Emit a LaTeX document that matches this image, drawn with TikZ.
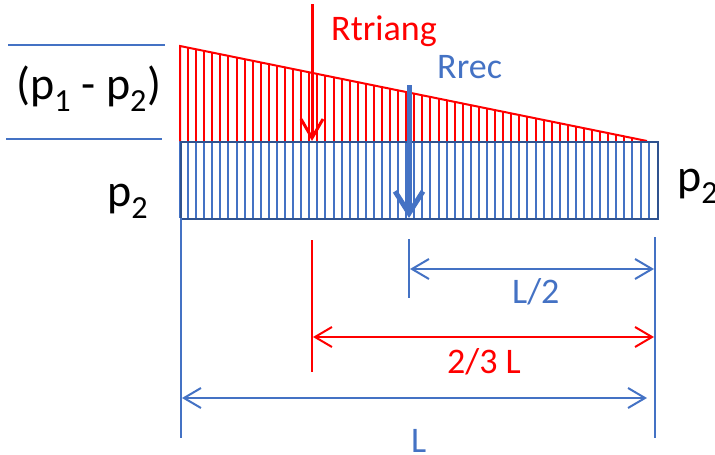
\documentclass[tikz,border=0pt]{standalone}
\usepackage{fontspec}
\setmainfont{Carlito}
\usetikzlibrary{arrows.meta}
\definecolor{cblue}{HTML}{4472C4}
\definecolor{cdark}{HTML}{2F528F}
\definecolor{cred}{HTML}{FF0000}
\begin{document}
\begin{tikzpicture}[x=1pt,y=-1pt,
  biglbl/.style={font=\fontsize{46}{50}\selectfont, inner sep=0pt},
  dimlbl/.style={font=\fontsize{36}{40}\selectfont, inner sep=0pt},
  dimline/.style={line width=2pt, {Straight Barb[length=17pt,width=20pt]}-{Straight Barb[length=17pt,width=20pt]}},
  tickline/.style={line width=2pt},
  hatch/.style={line width=2pt}]
\useasboundingbox (0,0) rectangle (715,455);

% hatching of the rectangle (p2)
\foreach \k in {0,...,58} {
  \pgfmathsetmacro\xx{180+8.08*\k}
  \draw[cblue, hatch] (\xx,141) -- (\xx,218);
}
% hatching of the triangle (p1 - p2)
\foreach \k in {0,...,57} {
  \pgfmathsetmacro\xx{180+8.08*\k}
  \pgfmathsetmacro\yt{46+(\xx-180)/467*95}
  \draw[cred, hatch] (\xx,\yt) -- (\xx,141);
}
\draw[cred, line width=2pt] (180,141) -- (180,46) -- (647,141);
\node[draw=cdark, line width=2pt, anchor=north west, inner sep=0pt,
      minimum width=477pt, minimum height=77pt] (rect) at (180,141) {};

% left reference lines
\coordinate (h1a) at (8,45);   \coordinate (h1b) at (165,45);
\coordinate (h2a) at (6,139);  \coordinate (h2b) at (162,139);
\draw[cblue, line width=2pt] (h1a) -- (h1b);
\draw[cblue, line width=2pt] (h2a) -- (h2b);

% labels
\node[biglbl, anchor=base west] (pdiff) at (16,99) {(p\textsubscript{1} - p\textsubscript{2})};
\node[biglbl, anchor=base west] (p2l) at (107,206) {p\textsubscript{2}};
\node[biglbl, anchor=base west] (p2r) at (677,191) {p\textsubscript{2}};

% resultants
\coordinate (rtTop) at (312,4);  \coordinate (rtTip) at (312,141);
\draw[cred, line width=3pt, -{Straight Barb[length=19pt,width=22pt]}] (rtTop) -- (rtTip);
\node[dimlbl, text=cred, anchor=base west] (rtri) at (331,40) {Rtriang};

\coordinate (rrTop) at (409,85); \coordinate (rrTip) at (409,218);
\draw[cblue, line width=5pt, -{Straight Barb[length=22pt,width=28pt]}] (rrTop) -- (rrTip);
\node[dimlbl, text=cblue, anchor=base west] (rrec) at (437,78) {Rrec};

% extension lines
\coordinate (e0a) at (181,218); \coordinate (e0b) at (181,438);
\coordinate (e1a) at (655,237); \coordinate (e1b) at (655,438);
\coordinate (e2a) at (409,239); \coordinate (e2b) at (409,298);
\coordinate (e3a) at (312,240); \coordinate (e3b) at (312,372);
\draw[cblue, tickline] (e0a) -- (e0b);
\draw[cblue, tickline] (e1a) -- (e1b);
\draw[cblue, tickline] (e2a) -- (e2b);
\draw[cred, tickline] (e3a) -- (e3b);

% dimension lines
\coordinate (d1a) at (410,269); \coordinate (d1b) at (654,269);
\coordinate (d2a) at (313,337); \coordinate (d2b) at (654,337);
\coordinate (d3a) at (182,398); \coordinate (d3b) at (647,398);
\draw[cblue, dimline] (d1a) -- (d1b);
\draw[cred, dimline] (d2a) -- (d2b);
\draw[cblue, dimline] (d3a) -- (d3b);

\node[dimlbl, text=cblue, anchor=base west] (lhalf) at (512,303) {L/2};
\node[dimlbl, text=cred, anchor=base west] (ltwo) at (447,373) {2/3 L};
\node[dimlbl, text=cblue, anchor=base west] (lfull) at (411,452) {L};
\end{tikzpicture}
\end{document}
